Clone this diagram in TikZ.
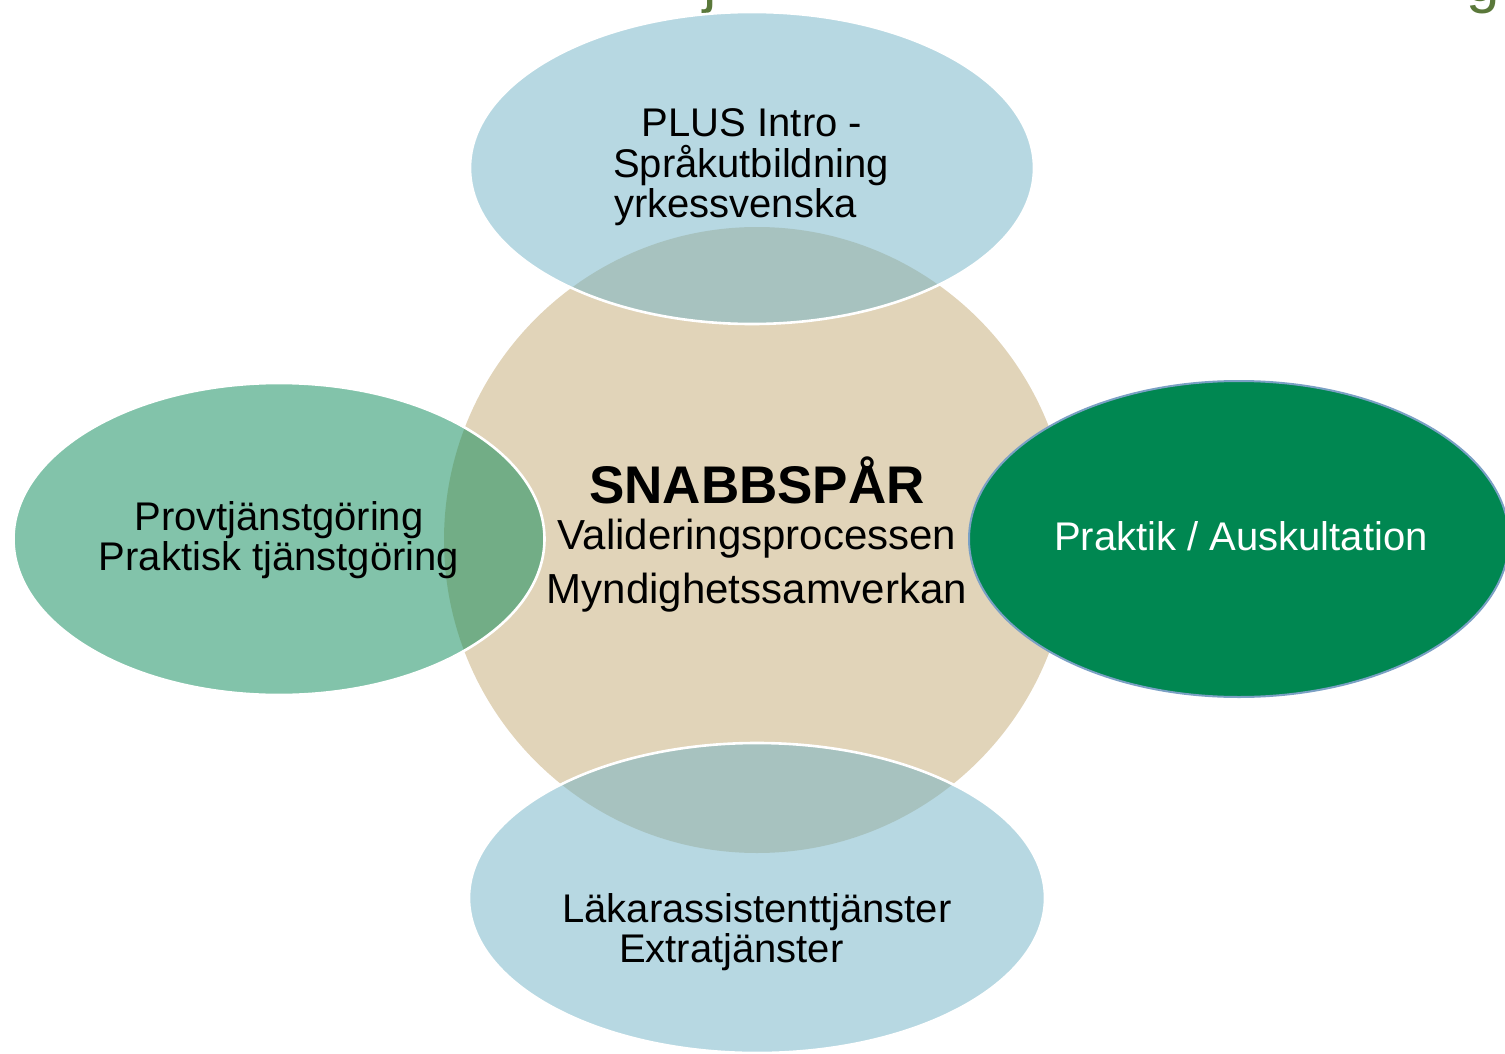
\documentclass[tikz,border=0pt]{standalone}
\usepackage{fontspec}
\setmainfont{Liberation Sans}
\usetikzlibrary{shapes.geometric}
\definecolor{beige}{RGB}{225,212,185}
\definecolor{bluefill}{RGB}{111,177,197}
\definecolor{greenfill}{RGB}{5,135,85}
\definecolor{darkgreen}{RGB}{0,135,81}
\definecolor{rimblue}{RGB}{122,160,196}
\definecolor{titlegreen}{RGB}{90,120,58}
\tikzset{
  blob/.style={ellipse, inner sep=0pt, outer sep=0pt},
  softblue/.style={blob, fill=bluefill, fill opacity=0.5, draw=white, line width=1.3pt},
  softgreen/.style={blob, fill=greenfill, fill opacity=0.5, draw=white, line width=1.3pt},
  label/.style={inner sep=0pt, outer sep=0pt, font=\fontsize{20}{24}\selectfont, text=black},
  centertext/.style={inner sep=0pt, outer sep=0pt, font=\fontsize{21}{25}\selectfont, text=black},
  titlefrag/.style={inner sep=0pt, outer sep=0pt, font=\fontsize{30}{36}\selectfont, text=titlegreen, anchor=base west}
}
\begin{document}
\begin{tikzpicture}[x=0.5pt,y=-0.5pt]
\useasboundingbox (0,0) rectangle (1505,1054);
% title fragments (cut off at top)
\node[titlefrag] (tj) at (703,2) {j};
\node[titlefrag] (tg) at (1466,2) {g};
% central circle
\node[circle, fill=beige, inner sep=0pt, minimum size=313pt] (core) at (757,540) {};
% surrounding ellipses
\node[softblue, minimum width=282pt, minimum height=156pt] (top) at (752,168) {};
\node[softgreen, minimum width=265.5pt, minimum height=156pt] (left) at (279,539) {};
\node[softblue, minimum width=288pt, minimum height=155pt] (bottom) at (757,898) {};
\node[blob, fill=darkgreen, draw=rimblue, line width=1pt, minimum width=270pt, minimum height=158pt] (right) at (1239,539) {};
% texts
\node[label, anchor=base] (t1) at (752,137) {PLUS Intro -};
\node[label, anchor=base] (t2) at (751,177) {Språkutbildning};
\node[label, anchor=base west] (t3) at (614,217) {yrkessvenska};
\node[inner sep=0pt, font=\fontsize{26.5}{30}\selectfont\bfseries, anchor=base] (c1) at (757,503) {SNABBSPÅR};
\node[centertext, anchor=base] (c2) at (757,549) {Valideringsprocessen};
\node[centertext, anchor=base] (c3) at (757,603) {Myndighetssamverkan};
\node[label, anchor=base] (l1) at (279,530) {Provtjänstgöring};
\node[label, anchor=base] (l2) at (279,570) {Praktisk tjänstgöring};
\node[label, anchor=base, text=white] (r1) at (1241,550) {Praktik / Auskultation};
\node[label, anchor=base] (b1) at (757,922) {Läkarassistenttjänster};
\node[label, anchor=base west] (b2) at (619,962) {Extratjänster};
\end{tikzpicture}
\end{document}
